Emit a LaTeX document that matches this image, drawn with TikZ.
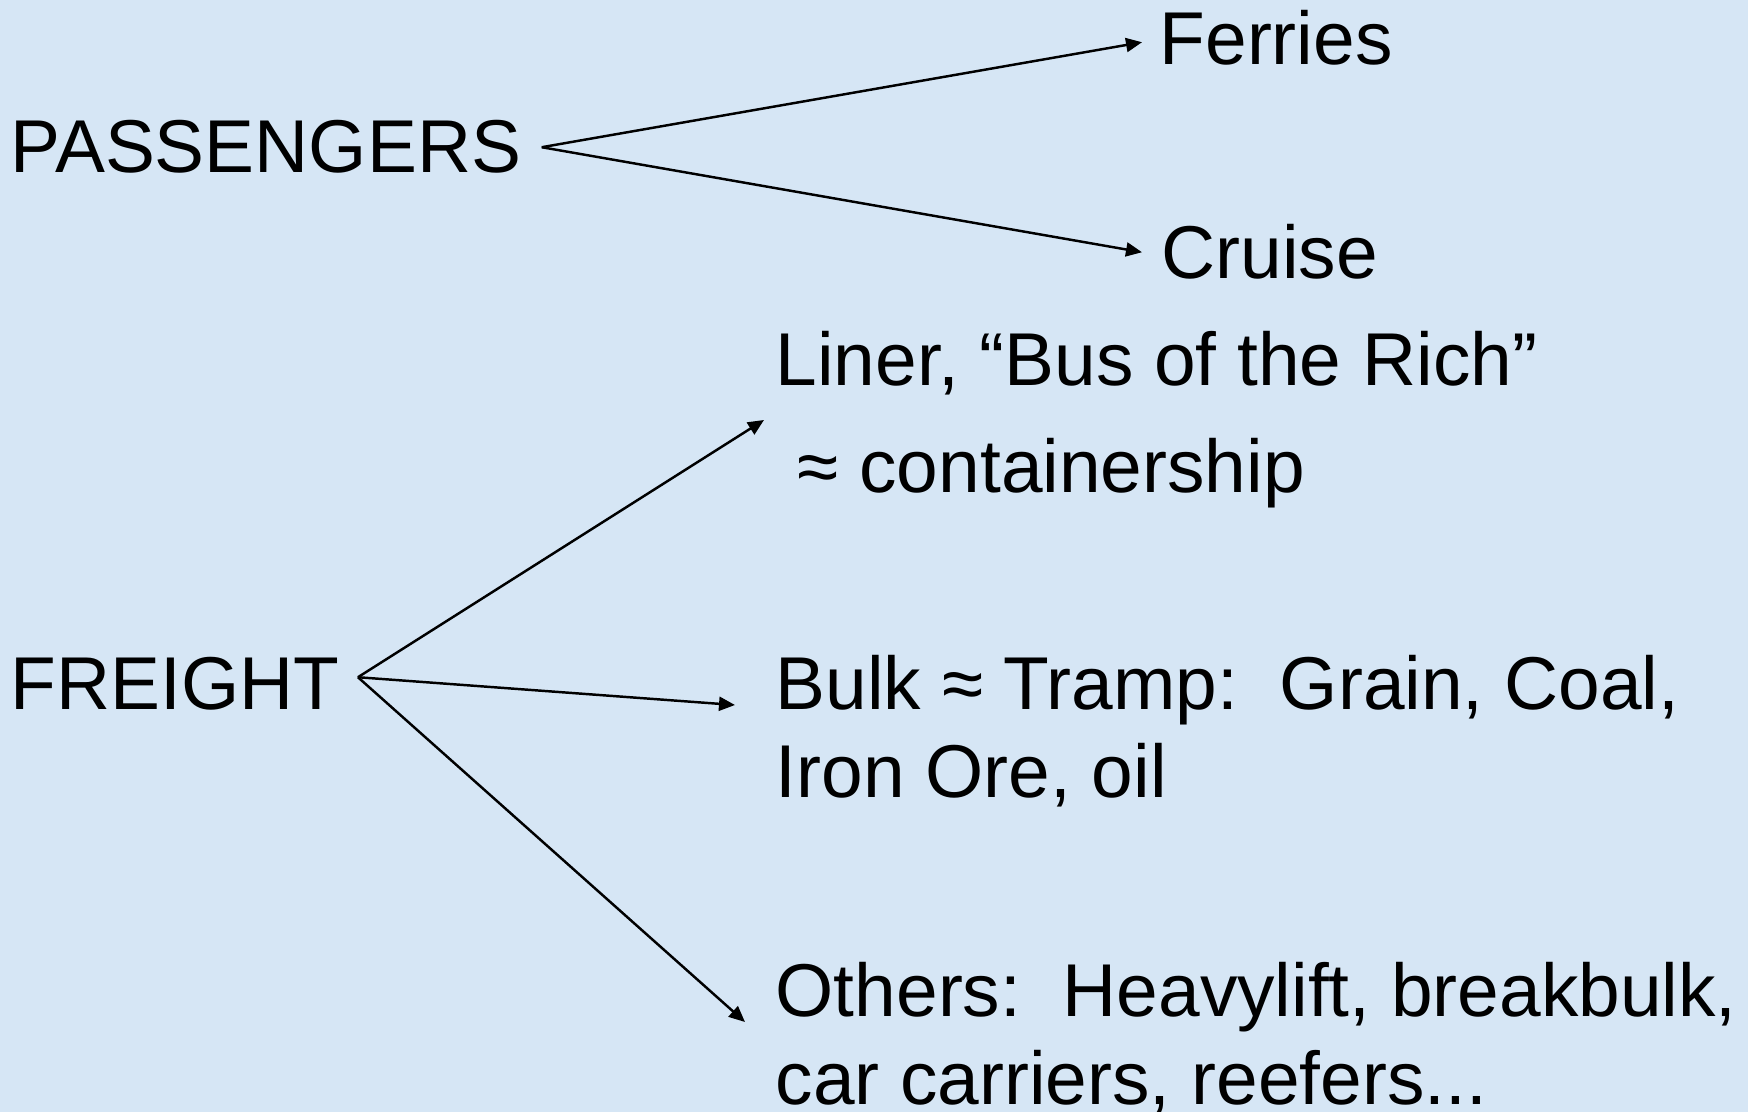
\documentclass[tikz,border=0pt]{standalone}
\usepackage{fontspec}
\setmainfont{Liberation Sans}
\usetikzlibrary{arrows.meta,positioning,calc}
\definecolor{paper}{RGB}{214,230,245}

\begin{document}
\begin{tikzpicture}[font=\fontsize{21.3}{25.3}\selectfont,
  lbl/.style={anchor=base west,inner sep=0pt},
  twoline/.style={lbl,align=left},
  arr/.style={-{Triangle[length=1.6mm,width=1.4mm]},line width=0.7pt}]
  \fill[paper] (0,0) rectangle (17.48,-11.12);
  \useasboundingbox (0,0) rectangle (17.48,-11.12);
  % passengers
  \node[lbl] (pas) at (0.10,-1.73) {PASSENGERS};
  \node[lbl] (ferries) at (11.59,-0.65) {Ferries};
  \node[lbl] (cruise) at (11.61,-2.79) {Cruise};
  \coordinate (pasfork) at ([xshift=2mm]pas.east);
  \draw[arr] (pasfork) -- ([shift={(-1.7mm,-0.4mm)}]ferries.west);
  \draw[arr] (pasfork) -- ([xshift=-1.9mm]cruise.west);
  % freight (base of a two-line node = its last line)
  \node[lbl] (liner) at (7.75,-3.86) {Liner, “Bus of the Rich”};
  \node[lbl] (contain) at (7.97,-4.93) {≈ containership};
  \node[lbl] (freight) at (0.10,-7.10) {FREIGHT};
  \node[twoline] (bulk) at (7.75,-7.98) {Bulk ≈ Tramp:\ \ Grain, Coal,\\Iron Ore, oil};
  \node[twoline] (others) at (7.75,-11.05) {Others:\ \ Heavylift, breakbulk,\\car carriers, reefers...};
  \coordinate (frfork) at ([shift={(1.8mm,0.7mm)}]freight.east);
  \draw[arr] (frfork) -- ([shift={(-1.1mm,-3.4mm)}]liner.base west);
  \draw[arr] (frfork) -- ([shift={(-4mm,9.3mm)}]bulk.base west);
  \draw[arr] (frfork) -- ([shift={(-3mm,8.3mm)}]others.base west);
\end{tikzpicture}
\end{document}
